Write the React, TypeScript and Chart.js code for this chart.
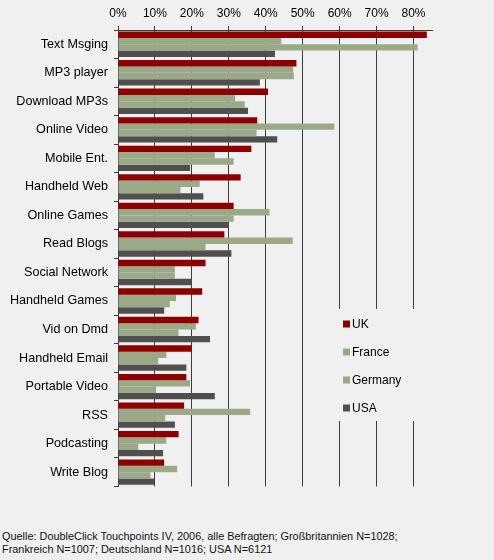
import React, { useEffect, useRef } from "react";
import { Chart, registerables } from "chart.js";

Chart.register(...registerables);

const categories = [
  "Text Msging", "MP3 player", "Download MP3s", "Online Video", "Mobile Ent.",
  "Handheld Web", "Online Games", "Read Blogs", "Social Network", "Handheld Games",
  "Vid on Dmd", "Handheld Email", "Portable Video", "RSS", "Podcasting", "Write Blog",
];
const seriesNames = ["UK", "France", "Germany", "USA"];
const uk = [83.6, 48.3, 40.6, 37.7, 36.1, 33.2, 31.3, 28.8, 23.7, 22.8, 21.8, 20.0, 18.5, 17.9, 16.4, 12.5];
const france = [44.2, 47.4, 31.7, 58.6, 26.2, 22.1, 41.0, 47.3, 15.4, 15.7, 21.1, 13.1, 19.5, 35.8, 13.1, 16.0];
const germany = [81.1, 47.6, 34.3, 37.5, 31.3, 16.9, 31.3, 23.7, 15.4, 14.0, 16.4, 10.9, 10.3, 12.8, 5.5, 8.8];
const usa = [42.5, 38.4, 35.2, 43.1, 19.5, 23.1, 30.0, 30.7, 20.0, 12.5, 24.9, 18.5, 26.2, 15.4, 12.2, 9.8];
const tickValues = [0, 10, 20, 30, 40, 50, 60, 70, 80];
const footerLines = [
  "Quelle: DoubleClick Touchpoints IV, 2006, alle Befragten; Großbritannien N=1028;",
  "Frankreich N=1007; Deutschland N=1016; USA N=6121",
];

const colors = ["#8e0000", "#9aaa89", "#9aaa89", "#4f4f4f"];
const BG = "#f0f0f0";
const FONT = "'Liberation Sans', Arial, sans-serif";

const legendPlugin = {
  id: "boxLegend",
  afterDraw(chart: any) {
    const ctx = chart.ctx;
    ctx.save();
    ctx.fillStyle = BG;
    ctx.fillRect(318, 309, 122, 112);
    ctx.font = "12px " + FONT;
    ctx.textBaseline = "middle";
    seriesNames.forEach((name, i) => {
      const y = 324 + i * 28;
      ctx.fillStyle = colors[i];
      ctx.fillRect(343, y - 3.5, 7, 7);
      ctx.fillStyle = "#000";
      ctx.fillText(name, 352, y + 0.5);
    });
    ctx.restore();
  },
};

export default function App() {
  const ref = useRef<HTMLCanvasElement | null>(null);
  useEffect(() => {
    document.body.style.margin = "0";
    document.body.style.background = BG;
    document.documentElement.style.background = BG;
    const chart = new Chart(ref.current as HTMLCanvasElement, {
      type: "bar",
      data: {
        labels: categories,
        datasets: [uk, france, germany, usa].map((d, i) => ({
          label: seriesNames[i],
          data: d,
          backgroundColor: colors[i],
          borderWidth: 0,
          categoryPercentage: 0.89,
          barPercentage: 1,
        })),
      },
      options: {
        indexAxis: "y",
        animation: false,
        responsive: false,
        layout: { padding: { top: 0, right: 62, bottom: 12, left: 0 } },
        plugins: { legend: { display: false }, tooltip: { enabled: false } },
        scales: {
          x: {
            position: "top",
            min: 0,
            max: 85,
            afterBuildTicks: (s: any) => {
              s.ticks = tickValues.map((v) => ({ value: v }));
            },
            afterFit: (s: any) => {
              s.height = 30;
            },
            ticks: {
              callback: (v: any) => v + "%",
              color: "#000",
              font: { family: FONT, size: 12 },
              padding: 5,
              maxRotation: 0,
            },
            grid: { color: "#3c3c3c", lineWidth: 1, tickLength: 4, drawTicks: true },
            border: { display: true, color: "#3c3c3c" },
          },
          y: {
            afterFit: (s: any) => {
              s.width = 118;
            },
            ticks: {
              color: "#000",
              font: { family: FONT, size: 12.6 },
              padding: 6,
              autoSkip: false,
            },
            grid: { display: true, drawOnChartArea: false, drawTicks: true, tickLength: 4, color: "#3c3c3c", offset: true },
            border: { display: true, color: "#3c3c3c" },
          },
        },
      },
      plugins: [legendPlugin],
    } as any);
    return () => chart.destroy();
  }, []);
  return (
    <div style={{ position: "relative", width: 494, height: 560, background: BG }}>
      <canvas ref={ref} width={494} height={500} style={{ display: "block" }} />
      <div
        style={{
          position: "absolute",
          left: 2,
          top: 530,
          fontFamily: FONT,
          fontSize: 10.9,
          lineHeight: "13px",
          color: "#111",
          whiteSpace: "nowrap",
        }}
      >
        {footerLines.map((l) => (
          <div key={l}>{l}</div>
        ))}
      </div>
    </div>
  );
}
